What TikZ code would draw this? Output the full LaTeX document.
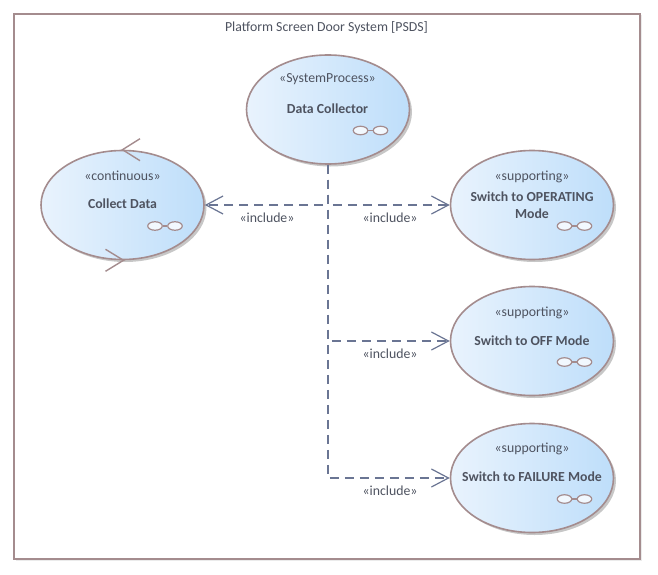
\documentclass[tikz,border=0pt]{standalone}
\usepackage{fontspec}
\setmainfont{Carlito}
\usetikzlibrary{shapes.geometric,arrows.meta,shadows,calc}
\definecolor{edgerose}{HTML}{A48C8E}
\definecolor{linkblue}{HTML}{6A7593}
\definecolor{textgrey}{HTML}{4E5360}
\definecolor{fillL}{HTML}{E9F3FD}
\definecolor{fillR}{HTML}{BEDEFA}
\tikzset{
  x=1pt,y=-1pt,
  frame/.style={draw=edgerose,line width=1.2pt,fill=white,
    drop shadow={shadow xshift=1.5pt,shadow yshift=-1.5pt,fill=black,opacity=.08}},
  usecase/.style={ellipse,draw=edgerose,line width=1.6pt,minimum width=163pt,minimum height=109pt,inner sep=0pt,
    left color=fillL,right color=fillR,
    drop shadow={shadow xshift=2.5pt,shadow yshift=-2.5pt,fill=black,opacity=.22}},
  stereo/.style={text=textgrey,font=\fontsize{13.8}{15}\selectfont,inner sep=0pt},
  ucname/.style={text=textgrey,font=\fontsize{13.8}{17}\selectfont\bfseries,inner sep=0pt,align=center},
  title/.style={text=textgrey,font=\fontsize{13.8}{15}\selectfont,inner sep=0pt},
  include/.style={draw=linkblue,line width=1.05pt,dash pattern=on 9pt off 6pt,
    -{Straight Barb[length=17pt,width=18pt,line width=1.2pt]}},
  selfarrow/.style={draw=edgerose,line width=1.4pt},
  glyph/.style={ellipse,draw=edgerose,line width=1.2pt,fill=white!40!fillL,minimum width=14.5pt,minimum height=8.5pt,inner sep=0pt},
  glyphlink/.style={draw=edgerose,line width=1.2pt}
}
\newcommand{\glossmark}[1]{%
  \node[glyph] (#1g1) at ($(#1)+(32.5,21)$) {};
  \node[glyph] (#1g2) at ($(#1)+(52.5,21)$) {};
  \draw[glyphlink] (#1g1) -- (#1g2);
}
\begin{document}
\begin{tikzpicture}
\useasboundingbox (0,0) rectangle (658,575);
\node[frame,rectangle,minimum width=626pt,minimum height=545pt,inner sep=0pt] (sys) at (327,286.5) {};
\node[title] (systitle) at (326.5,27.5) {Platform Screen Door System [PSDS]};

\node[usecase] (dc) at (328,109.5) {};
\node[usecase] (cd) at (122.5,205) {};
\node[usecase] (op) at (532,205) {};
\node[usecase] (off) at (532,341) {};
\node[usecase] (fail) at (532,478) {};

\glossmark{dc}\glossmark{cd}\glossmark{op}\glossmark{off}\glossmark{fail}

\node[stereo] (dcs) at (327.5,79.5) {«SystemProcess»};
\node[ucname] (dcn) at (327.5,108.5) {Data Collector};
\node[stereo] (cds) at (122.5,175.5) {«continuous»};
\node[ucname] (cdn) at (122.5,203.5) {Collect Data};
\node[stereo] (ops) at (532,176.5) {«supporting»};
\node[ucname] (opn) at (532,205) {Switch to OPERATING\\Mode};
\node[stereo] (offs) at (532,312.5) {«supporting»};
\node[ucname] (offn) at (532,340.5) {Switch to OFF Mode};
\node[stereo] (fails) at (532,448.5) {«supporting»};
\node[ucname] (failn) at (532,476.5) {Switch to FAILURE Mode};

\draw[include] (dc.south) |- (cd.east);
\draw[include] (dc.south) |- (op.west);
\draw[include] (dc.south) |- (off.west);
\draw[include] (dc.south) |- (fail.west);

\node[stereo] (l1) at (267,218) {«include»};
\node[stereo] (l2) at (390,218) {«include»};
\node[stereo] (l3) at (390,354) {«include»};
\node[stereo] (l4) at (390,491) {«include»};

\draw[selfarrow] ($(cd.north)+(17.5,-11)$) -- ($(cd.north)+(0,0)$) -- ($(cd.north)+(17.5,11)$);
\draw[selfarrow] ($(cd.south)+(-17,-11)$) -- ($(cd.south)+(1,0)$) -- ($(cd.south)+(-17,11)$);
\end{tikzpicture}
\end{document}
